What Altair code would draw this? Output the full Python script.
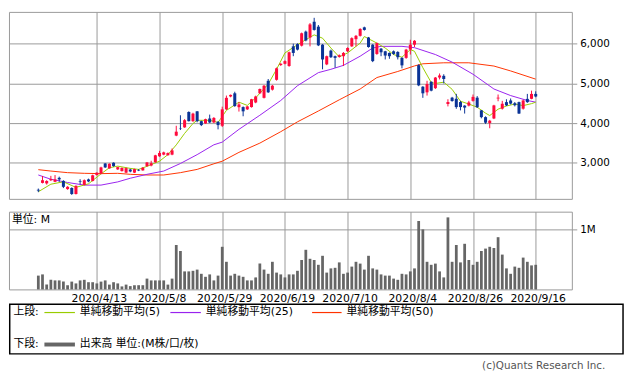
import altair as alt
import pandas as pd

# ---------------- data ----------------
dates = [
    "2020/3/24", "2020/3/25", "2020/3/26", "2020/3/27", "2020/3/30", "2020/3/31",
    "2020/4/1", "2020/4/2", "2020/4/3", "2020/4/6", "2020/4/7", "2020/4/8", "2020/4/9", "2020/4/10",
    "2020/4/13", "2020/4/14", "2020/4/15", "2020/4/16", "2020/4/17",
    "2020/4/20", "2020/4/21", "2020/4/22", "2020/4/23", "2020/4/24",
    "2020/4/27", "2020/4/28", "2020/4/30", "2020/5/1", "2020/5/7", "2020/5/8",
    "2020/5/11", "2020/5/12", "2020/5/13", "2020/5/14", "2020/5/15",
    "2020/5/18", "2020/5/19", "2020/5/20", "2020/5/21", "2020/5/22",
    "2020/5/25", "2020/5/26", "2020/5/27", "2020/5/28", "2020/5/29",
    "2020/6/1", "2020/6/2", "2020/6/3", "2020/6/4", "2020/6/5",
    "2020/6/8", "2020/6/9", "2020/6/10", "2020/6/11", "2020/6/12",
    "2020/6/15", "2020/6/16", "2020/6/17", "2020/6/18", "2020/6/19",
    "2020/6/22", "2020/6/23", "2020/6/24", "2020/6/25", "2020/6/26",
    "2020/6/29", "2020/6/30", "2020/7/1", "2020/7/2", "2020/7/3",
    "2020/7/6", "2020/7/7", "2020/7/8", "2020/7/9", "2020/7/10",
    "2020/7/13", "2020/7/14", "2020/7/15", "2020/7/16", "2020/7/17",
    "2020/7/20", "2020/7/21", "2020/7/22",
    "2020/7/27", "2020/7/28", "2020/7/29", "2020/7/30", "2020/7/31",
    "2020/8/3", "2020/8/4", "2020/8/5", "2020/8/6", "2020/8/7",
    "2020/8/11", "2020/8/12", "2020/8/13", "2020/8/14",
    "2020/8/17", "2020/8/18", "2020/8/19", "2020/8/20", "2020/8/21",
    "2020/8/24", "2020/8/25", "2020/8/26", "2020/8/27", "2020/8/28", "2020/8/31",
    "2020/9/1", "2020/9/2", "2020/9/3", "2020/9/4",
    "2020/9/7", "2020/9/8", "2020/9/9", "2020/9/10", "2020/9/11",
    "2020/9/14", "2020/9/15", "2020/9/16",
]

opens = [
    2320, 2493, 2480, 2560, 2520, 2620, 2543, 2337, 2362, 2213,
    2530, 2444, 2580, 2543, 2690, 2726, 2982, 2858, 3000, 2833,
    2790, 2751, 2830, 2751, 2820, 2808, 2915, 2930, 3014, 3163,
    3205, 3190, 3205, 3684, 3860, 3892, 4279, 4048, 4296, 4048,
    3991, 4115, 4016, 4031, 3932, 4346, 4670, 4750, 4400, 4403,
    4346, 4403, 4519, 4750, 4636, 5065, 4842, 5090, 5462, 5494,
    5437, 5933, 5990, 5950, 6305, 6156, 6553, 6429, 5975, 5479,
    5826, 5685, 5668, 5685, 5809, 5933, 6114, 6198, 6412, 6156,
    5975, 5742, 5876, 5809, 5767, 5809, 5792, 5643, 5643, 5851,
    5975, 5460, 4916, 4775, 5041, 4880, 5148, 5190, 4480, 4640,
    4613, 4530, 4440, 4440, 4560, 4640, 4320, 4150, 4000, 4116,
    4620, 4363, 4528, 4570, 4500, 4528, 4363, 4610, 4611, 4735,
]
highs = [
    2350, 2667, 2560, 2670, 2690, 2650, 2560, 2410, 2380, 2430,
    2585, 2580, 2600, 2700, 2760, 2900, 2990, 2985, 3010, 2900,
    2880, 2880, 2850, 2850, 2840, 2890, 3020, 3050, 3200, 3300,
    3280, 3260, 3360, 3932, 4197, 4100, 4296, 4260, 4300, 4060,
    4110, 4214, 4150, 4050, 4413, 4693, 4720, 4790, 4530, 4420,
    4430, 4610, 4690, 4870, 4960, 5110, 4960, 5400, 5510, 5580,
    5800, 6000, 6010, 6280, 6330, 6520, 6652, 6471, 5990, 5700,
    5850, 5700, 5730, 5790, 5910, 6160, 6220, 6390, 6429, 6170,
    5990, 6030, 5890, 5820, 5780, 5830, 5810, 5660, 5870, 6099,
    6090, 5480, 4930, 5065, 5050, 5160, 5250, 5230, 4600, 4660,
    4736, 4560, 4450, 4560, 4720, 4680, 4330, 4170, 4080, 4460,
    4720, 4560, 4600, 4620, 4530, 4540, 4590, 4735, 4817, 4800,
]
lows = [
    2260, 2480, 2450, 2540, 2510, 2520, 2362, 2320, 2190, 2200,
    2460, 2430, 2510, 2530, 2680, 2710, 2870, 2850, 2900, 2820,
    2780, 2740, 2760, 2740, 2790, 2800, 2900, 2910, 3000, 3150,
    3190, 3180, 3190, 3670, 3825, 3880, 4040, 4030, 4020, 3924,
    3980, 4000, 4000, 3842, 3900, 4330, 4650, 4410, 4290, 4172,
    4330, 4390, 4500, 4740, 4620, 4760, 4820, 5070, 5440, 5480,
    5420, 5685, 5830, 5930, 6060, 5933, 6330, 5940, 5355, 5460,
    5640, 5395, 5650, 5437, 5790, 5920, 5933, 6180, 6330, 5900,
    5536, 5720, 5685, 5603, 5620, 5720, 5603, 5380, 5620, 5727,
    5916, 4930, 4636, 4693, 4800, 4860, 5100, 5000, 4420, 4540,
    4360, 4320, 4240, 4420, 4540, 4380, 4120, 3980, 3870, 4100,
    4550, 4340, 4430, 4470, 4420, 4230, 4340, 4510, 4600, 4650,
]
closes = [
    2300, 2560, 2540, 2590, 2580, 2580, 2394, 2394, 2213, 2419,
    2515, 2560, 2530, 2684, 2750, 2883, 2883, 2974, 2915, 2890,
    2870, 2865, 2780, 2840, 2805, 2875, 3007, 2990, 3188, 3247,
    3262, 3245, 3312, 3783, 3850, 4073, 4048, 4239, 4048, 3949,
    4098, 4016, 4130, 3949, 4346, 4636, 4710, 4428, 4470, 4296,
    4420, 4601, 4668, 4859, 4941, 4775, 4941, 5380, 5494, 5561,
    5784, 5767, 5851, 6263, 6082, 6486, 6347, 5958, 5603, 5685,
    5660, 5643, 5710, 5767, 5891, 6139, 6198, 6372, 6347, 5916,
    5561, 6015, 5784, 5702, 5685, 5742, 5660, 5454, 5851, 5975,
    6074, 4950, 4750, 4983, 4817, 5147, 5200, 5110, 4530, 4555,
    4403, 4403, 4390, 4520, 4660, 4400, 4150, 4010, 4060, 4445,
    4640, 4487, 4446, 4490, 4450, 4240, 4569, 4528, 4735, 4670,
]
volumes_m = [
    0.23, 0.25, 0.08, 0.16, 0.15, 0.15, 0.13, 0.07, 0.13, 0.10,
    0.15, 0.16, 0.12, 0.12, 0.10, 0.13, 0.15, 0.08, 0.12, 0.10,
    0.05, 0.08, 0.055, 0.07, 0.07, 0.07, 0.18, 0.15, 0.15, 0.15,
    0.15, 0.08, 0.18, 0.74, 0.64, 0.30, 0.30, 0.31, 0.33, 0.26,
    0.21, 0.25, 0.15, 0.23, 0.71, 0.46, 0.23, 0.26, 0.23, 0.21,
    0.15, 0.15, 0.20, 0.43, 0.33, 0.26, 0.46, 0.28, 0.25, 0.20,
    0.25, 0.25, 0.31, 0.49, 0.66, 0.51, 0.49, 0.41, 0.56, 0.28,
    0.35, 0.36, 0.45, 0.26, 0.28, 0.38, 0.46, 0.43, 0.33, 0.56,
    0.35, 0.33, 0.25, 0.23, 0.23, 0.18, 0.16, 0.26, 0.25, 0.30,
    0.35, 1.14, 1.00, 0.46, 0.41, 0.43, 0.30, 0.20, 1.20, 0.46,
    0.74, 0.45, 0.76, 0.49, 0.41, 0.46, 0.64, 0.68, 0.71, 0.69,
    0.87, 0.58, 0.35, 0.26, 0.38, 0.36, 0.53, 0.46, 0.40, 0.41,
]

# moving averages (trading-day index, value)
ma5_idx = [0, 3, 6, 9, 12, 15, 17, 19, 22, 24, 26, 29, 31, 33, 35, 37, 38, 41, 43, 45,
           48, 50, 52, 55, 57, 59, 62, 64, 66, 68, 70, 72, 74, 77, 78, 81, 83, 85, 87,
           89, 90, 92, 94, 95, 97, 99, 101, 103, 105, 107, 108, 110, 112, 114, 116, 118, 119]
ma5_val = [2270, 2460, 2520, 2380, 2470, 2720, 2875, 2915, 2858, 2833, 2910, 3040, 3205,
           3450, 3740, 3990, 4070, 4070, 4016, 4320, 4527, 4445, 4636, 4983, 5355, 5767,
           5975, 6100, 6223, 6139, 5891, 5668, 5767, 6015, 6181, 6015, 5891, 5727, 5660,
           5851, 5809, 5395, 5023, 4998, 5030, 4850, 4550, 4480, 4400, 4250, 4190, 4350,
           4430, 4480, 4440, 4490, 4527]
ma25_idx = [0, 3, 7, 11, 15, 19, 22, 26, 30, 34, 38, 42, 44, 48, 53, 58, 62, 67, 70, 73,
            77, 80, 82, 87, 90, 95, 99, 104, 109, 113, 117, 119]
ma25_val = [2692, 2585, 2503, 2437, 2437, 2518, 2610, 2709, 2791, 2982, 3205, 3453, 3520,
            3842, 4197, 4569, 4941, 5271, 5355, 5454, 5685, 5891, 5933, 5933, 5900, 5727,
            5536, 5231, 4859, 4693, 4569, 4527]
ma50_idx = [0, 3, 7, 11, 15, 19, 22, 26, 30, 34, 38, 42, 44, 48, 53, 58, 62, 67, 72, 77,
            81, 86, 90, 92, 97, 103, 109, 113, 119]
ma50_val = [2826, 2791, 2751, 2734, 2726, 2734, 2709, 2692, 2692, 2751, 2833, 2974, 3039,
            3262, 3495, 3783, 4031, 4304, 4586, 4859, 5147, 5300, 5440, 5494, 5519, 5519,
            5437, 5314, 5107]

tick_idx = [14, 29, 44, 59, 74, 89, 104, 119]
price_ticks = [3000, 4000, 5000, 6000]
volume_ticks = [1]

legend_top = ["単純移動平均(5)", "単純移動平均(25)", "単純移動平均(50)"]
legend_bottom = "出来高 単位:(M株/口/枚)"
copyright_text = "(c)Quants Research Inc."

# ---------------- style ----------------
FONT = "DejaVu Sans, Noto Sans CJK JP"
UP = "#ff0a3c"
DOWN = "#0a3396"
C5 = "#99cc00"
C25 = "#9922ee"
C50 = "#ff3300"
VOLC = "#666666"
GRID = "#999999"

df = pd.DataFrame({
    "i": list(range(len(dates))),
    "date": dates,
    "open": opens,
    "high": highs,
    "low": lows,
    "close": closes,
    "vol": volumes_m,
})
df["dir"] = ["up" if c >= o else "down" for o, c in zip(opens, closes)]
df["x0"] = df["i"] - 0.36
df["x1"] = df["i"] + 0.36
df["v0"] = df["i"] - 0.33
df["v1"] = df["i"] + 0.33
df["zero"] = 0.0

# tick label expression from the date list
label_expr = "''"
for k in reversed(tick_idx):
    label_expr = f"datum.value == {k} ? '{dates[k]}' : ({label_expr})"

xs = alt.Scale(domain=[-7.02, 127.65], nice=False, zero=False)
ys = alt.Scale(domain=[2090, 6801], nice=False, zero=False)
vs = alt.Scale(domain=[0, 1.295], nice=False, zero=True)
cs = alt.Scale(domain=["up", "down"], range=[UP, DOWN])

x_ax_price = alt.Axis(values=tick_idx, labels=False, ticks=False, domain=False,
                      grid=True, gridColor=GRID, gridWidth=1, title=None)
y_ax_price = alt.Axis(values=price_ticks, orient="right", format=",d", grid=True,
                      gridColor=GRID, gridWidth=1, tickColor=GRID, tickSize=5,
                      labelPadding=3, labelFontSize=10.5, labelColor="#000",
                      labelFont=FONT, domain=False, title=None)

W = 572

wick = alt.Chart(df).mark_rule(strokeWidth=1).encode(
    x=alt.X("i:Q", scale=xs, axis=x_ax_price),
    y=alt.Y("low:Q", scale=ys, axis=y_ax_price),
    y2="high:Q",
    color=alt.Color("dir:N", scale=cs, legend=None),
)
body = alt.Chart(df).mark_rect().encode(
    x=alt.X("x0:Q", scale=xs, axis=x_ax_price),
    x2="x1:Q",
    y=alt.Y("open:Q", scale=ys, axis=y_ax_price),
    y2="close:Q",
    color=alt.Color("dir:N", scale=cs, legend=None),
)


def ma_line(idx, vals, color):
    d = pd.DataFrame({"i": idx, "v": vals})
    return alt.Chart(d).mark_line(color=color, strokeWidth=1).encode(
        x=alt.X("i:Q", scale=xs, axis=x_ax_price),
        y=alt.Y("v:Q", scale=ys, axis=y_ax_price),
    )


price = alt.layer(
    ma_line(ma50_idx, ma50_val, C50),
    ma_line(ma25_idx, ma25_val, C25),
    ma_line(ma5_idx, ma5_val, C5),
    wick,
    body,
).properties(width=W, height=190)

# ---------------- volume panel ----------------
x_ax_vol = alt.Axis(values=tick_idx, labelExpr=label_expr, ticks=False, domain=False,
                    grid=True, gridColor=GRID, gridWidth=1, labelFontSize=11,
                    labelColor="#000", labelFont=FONT, labelPadding=3, labelOffset=2,
                    title=None, labelOverlap=False)
y_ax_vol = alt.Axis(values=volume_ticks, labelExpr="datum.value + 'M'", orient="right",
                    grid=True, gridColor=GRID, gridWidth=1, tickColor=GRID, tickSize=5,
                    labelPadding=3, labelFontSize=10.5, labelColor="#000",
                    labelFont=FONT, domain=False, title=None)

vbars = alt.Chart(df).mark_rect(color=VOLC).encode(
    x=alt.X("v0:Q", scale=xs, axis=x_ax_vol),
    x2="v1:Q",
    y=alt.Y("vol:Q", scale=vs, axis=y_ax_vol),
    y2="zero:Q",
)

one = pd.DataFrame({"k": [0]})


def txt(s, x, y, align="left", size=11, color="#000"):
    return alt.Chart(one).mark_text(align=align, baseline="middle", fontSize=size,
                                    font=FONT, color=color).encode(
        x=alt.value(x), y=alt.value(y), text=alt.value(s))


def hline(x1, x2, y, color, width):
    return alt.Chart(one).mark_rule(color=color, strokeWidth=width).encode(
        x=alt.value(x1), x2=alt.value(x2), y=alt.value(y))


box = alt.Chart(one).mark_rect(fillOpacity=0, stroke="#000", strokeWidth=1.5).encode(
    x=alt.value(0.75), x2=alt.value(624), y=alt.value(94), y2=alt.value(144.5))

dx = 4  # keep the legend content clear of the box edge
deco = [
    txt("単位: M", 3, 8.5),
    box,
    txt("上段:", 0.5 + dx, 102.5),
    hline(32 + dx, 63 + dx, 102.5, C5, 1.2),
    txt(legend_top[0], 68 + dx, 102.5),
    hline(160 + dx, 191 + dx, 102.5, C25, 1.2),
    txt(legend_top[1], 196 + dx, 102.5),
    hline(304 + dx, 334 + dx, 102.5, C50, 1.2),
    txt(legend_top[2], 339 + dx, 102.5),
    txt("下段:", 0.5 + dx, 135),
    hline(32 + dx, 63 + dx, 135, VOLC, 4),
    txt(legend_bottom, 68 + dx, 135),
    txt(copyright_text, 606, 157, align="right", size=10.5, color="#555"),
]

volume = alt.layer(vbars, *deco).properties(width=W, height=79)

chart = alt.vconcat(price, volume, spacing=11).properties(
    padding={"left": 0, "top": 0, "right": 0, "bottom": 0},
    background="white",
).configure_view(stroke=GRID, strokeWidth=1).configure_text(font=FONT)

chart.save("out.html", embed_options={"renderer": "svg", "actions": False})
